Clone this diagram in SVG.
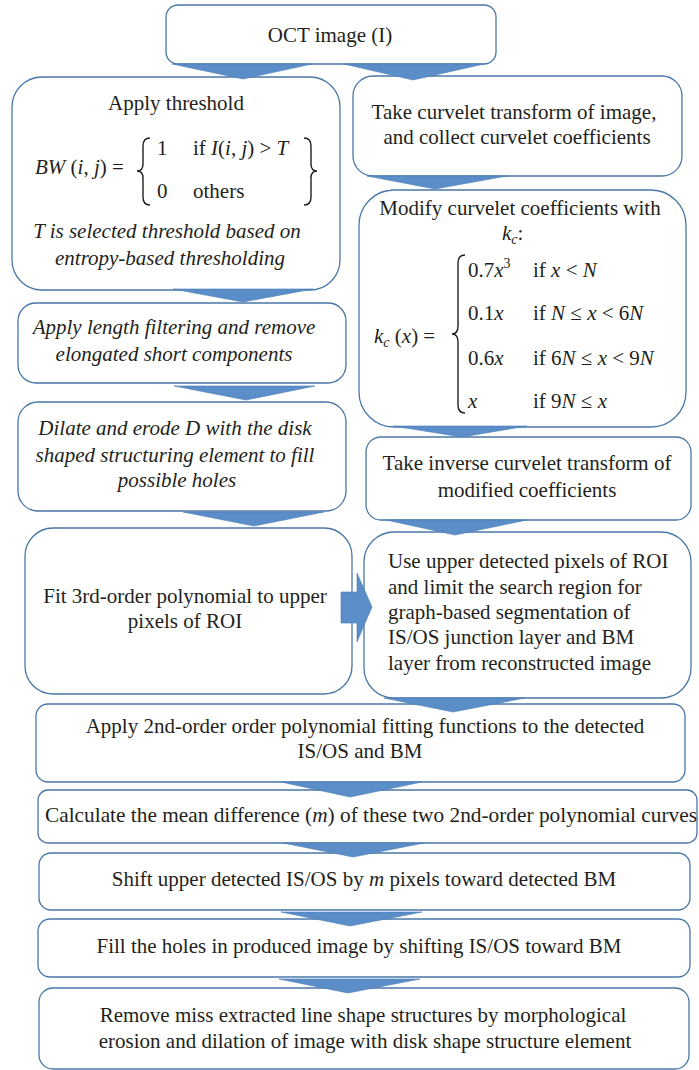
<svg xmlns="http://www.w3.org/2000/svg" width="699" height="1070" viewBox="0 0 699 1070">
<style>
.box{fill:#fff;stroke:#4a77a8;stroke-width:1.3}
.arr{fill:#5b8ec8;stroke:#4c7db5;stroke-width:0.6}
.t{font-family:"Liberation Serif","Times New Roman",serif;font-size:21px;fill:#231f20}
.c{text-anchor:middle}
.i{font-style:italic}
.br{fill:none;stroke:#231f20;stroke-width:1.4}
</style>
<rect width="699" height="1070" fill="#fff"/>
<g id="n-oct"><rect class="box" x="166" y="5" width="330" height="59" rx="12"/>
<text class="t c" x="330" y="42">OCT image (I)</text></g>
<g id="n-thresh"><rect class="box" x="12" y="77" width="328" height="213" rx="30"/>
<text class="t c" x="176" y="110">Apply threshold</text>
<text class="t" x="35" y="174"><tspan class="i">BW</tspan> (<tspan class="i">i</tspan>, <tspan class="i">j</tspan>) =</text>
<path class="br" d="M150 138 Q143 138 143 146 L143 164 Q143 171 137 171 Q143 171 143 178 L143 197 Q143 205 150 205"/>
<text class="t" x="157" y="155">1</text>
<text class="t" x="193" y="155">if <tspan class="i">I</tspan>(<tspan class="i">i</tspan>, <tspan class="i">j</tspan>) &gt; <tspan class="i">T</tspan></text>
<text class="t" x="157" y="198">0</text>
<text class="t" x="193" y="198">others</text>
<path class="br" d="M304 138 Q311 138 311 146 L311 164 Q311 171 317 171 Q311 171 311 178 L311 197 Q311 205 304 205"/>
<text class="t c i" x="167" y="238">T is selected threshold based on</text>
<text class="t c i" x="170" y="265">entropy-based thresholding</text></g>
<g id="n-curvelet"><rect class="box" x="353" y="76" width="329" height="100" rx="20"/>
<text class="t c" x="514" y="119">Take curvelet transform of image,</text>
<text class="t c" x="517" y="144">and collect curvelet coefficients</text></g>
<g id="n-length"><rect class="box" x="18" y="303" width="328" height="80" rx="18"/>
<text class="t c i" x="174" y="334">Apply length filtering and remove</text>
<text class="t c i" x="174" y="361">elongated short components</text></g>
<g id="n-modify"><rect class="box" x="359" y="190" width="327" height="237" rx="35"/>
<text class="t c" x="520" y="215">Modify curvelet coefficients with</text>
<text class="t" x="502" y="240"><tspan class="i">k</tspan><tspan class="i" font-size="14" dy="4">c</tspan><tspan dy="-4">:</tspan></text>
<text class="t" x="374" y="343"><tspan class="i">k</tspan><tspan class="i" font-size="14" dy="4">c</tspan><tspan dy="-4"> (</tspan><tspan class="i">x</tspan>) =</text>
<path class="br" d="M465 255 Q458 255 458 263 L458 326 Q458 334 452 334 Q458 334 458 342 L458 405 Q458 413 465 413"/>
<text class="t" x="468" y="277">0.7<tspan class="i">x</tspan><tspan font-size="14" dy="-9">3</tspan></text>
<text class="t" x="533" y="277">if <tspan class="i">x</tspan> &lt; <tspan class="i">N</tspan></text>
<text class="t" x="468" y="320">0.1<tspan class="i">x</tspan></text>
<text class="t" x="533" y="320">if <tspan class="i">N</tspan> ≤ <tspan class="i">x</tspan> &lt; 6<tspan class="i">N</tspan></text>
<text class="t" x="468" y="365">0.6<tspan class="i">x</tspan></text>
<text class="t" x="533" y="365">if 6<tspan class="i">N</tspan> ≤ <tspan class="i">x</tspan> &lt; 9<tspan class="i">N</tspan></text>
<text class="t i" x="468" y="408">x</text>
<text class="t" x="533" y="408">if 9<tspan class="i">N</tspan> ≤ <tspan class="i">x</tspan></text></g>
<g id="n-dilate"><rect class="box" x="18" y="402" width="328" height="109" rx="20"/>
<text class="t c i" x="175" y="435">Dilate and erode D with the disk</text>
<text class="t c i" x="175" y="462">shaped structuring element to fill</text>
<text class="t c i" x="177" y="487">possible holes</text></g>
<g id="n-inverse"><rect class="box" x="366" y="437" width="325" height="83" rx="15"/>
<text class="t c" x="527" y="470">Take inverse curvelet transform of</text>
<text class="t c" x="527" y="497">modified coefficients</text></g>
<g id="n-fit3"><rect class="box" x="25" y="528" width="327" height="166" rx="28"/>
<text class="t c" x="185" y="603">Fit 3rd-order polynomial to upper</text>
<text class="t c" x="185" y="628">pixels of ROI</text></g>
<g id="n-useupper"><rect class="box" x="364" y="532" width="327" height="166" rx="30"/>
<text class="t" x="388" y="568">Use upper detected pixels of ROI</text>
<text class="t" x="388" y="594">and limit the search region for</text>
<text class="t" x="388" y="619">graph-based segmentation of</text>
<text class="t" x="388" y="644">IS/OS junction layer and BM</text>
<text class="t" x="388" y="670">layer from reconstructed image</text></g>
<g id="n-fit2"><rect class="box" x="36" y="704" width="649" height="78" rx="12"/>
<text class="t c" x="365" y="733">Apply 2nd-order order polynomial fitting functions to the detected</text>
<text class="t c" x="360" y="758">IS/OS and BM</text></g>
<g id="n-mean"><rect class="box" x="38" y="790" width="659" height="53" rx="10"/>
<text class="t" x="45" y="822" textLength="652" lengthAdjust="spacingAndGlyphs">Calculate the mean difference (<tspan class="i">m</tspan>) of these two 2nd-order polynomial curves</text></g>
<g id="n-shift"><rect class="box" x="39" y="853" width="651" height="57" rx="12"/>
<text class="t c" x="364" y="886">Shift upper detected IS/OS by <tspan class="i">m</tspan> pixels toward detected BM</text></g>
<g id="n-fill"><rect class="box" x="38" y="919" width="652" height="58" rx="12"/>
<text class="t c" x="359" y="953">Fill the holes in produced image by shifting IS/OS toward BM</text></g>
<g id="n-remove"><rect class="box" x="39" y="988" width="650" height="81" rx="14"/>
<text class="t c" x="363" y="1022">Remove miss extracted line shape structures by morphological</text>
<text class="t c" x="365" y="1048">erosion and dilation of image with disk shape structure element</text></g>
<g id="connectors">
<polygon class="arr" points="172,64 312,64 243,79"/>
<polygon class="arr" points="344,64 484,64 413,80"/>
<polygon class="arr" points="173,289 313,289 243,302"/>
<polygon class="arr" points="174,386 315,386 246,400"/>
<polygon class="arr" points="183,512 324,512 254,526"/>
<polygon class="arr" points="367,176 507,176 435,189"/>
<polygon class="arr" points="393,426 527,426 462,437"/>
<polygon class="arr" points="386,520 527,520 455,535"/>
<polygon class="arr" points="384,698 525,698 453,712"/>
<polygon class="arr" points="281,782 422,782 350,797"/>
<polygon class="arr" points="283,843 424,843 353,857"/>
<polygon class="arr" points="281,912 422,912 350,926"/>
<polygon class="arr" points="279,979 420,979 348,993"/>
<polygon class="arr" points="341,592 357,592 357,573 372,607 357,642 357,623 341,623"/>
</g>
</svg>
